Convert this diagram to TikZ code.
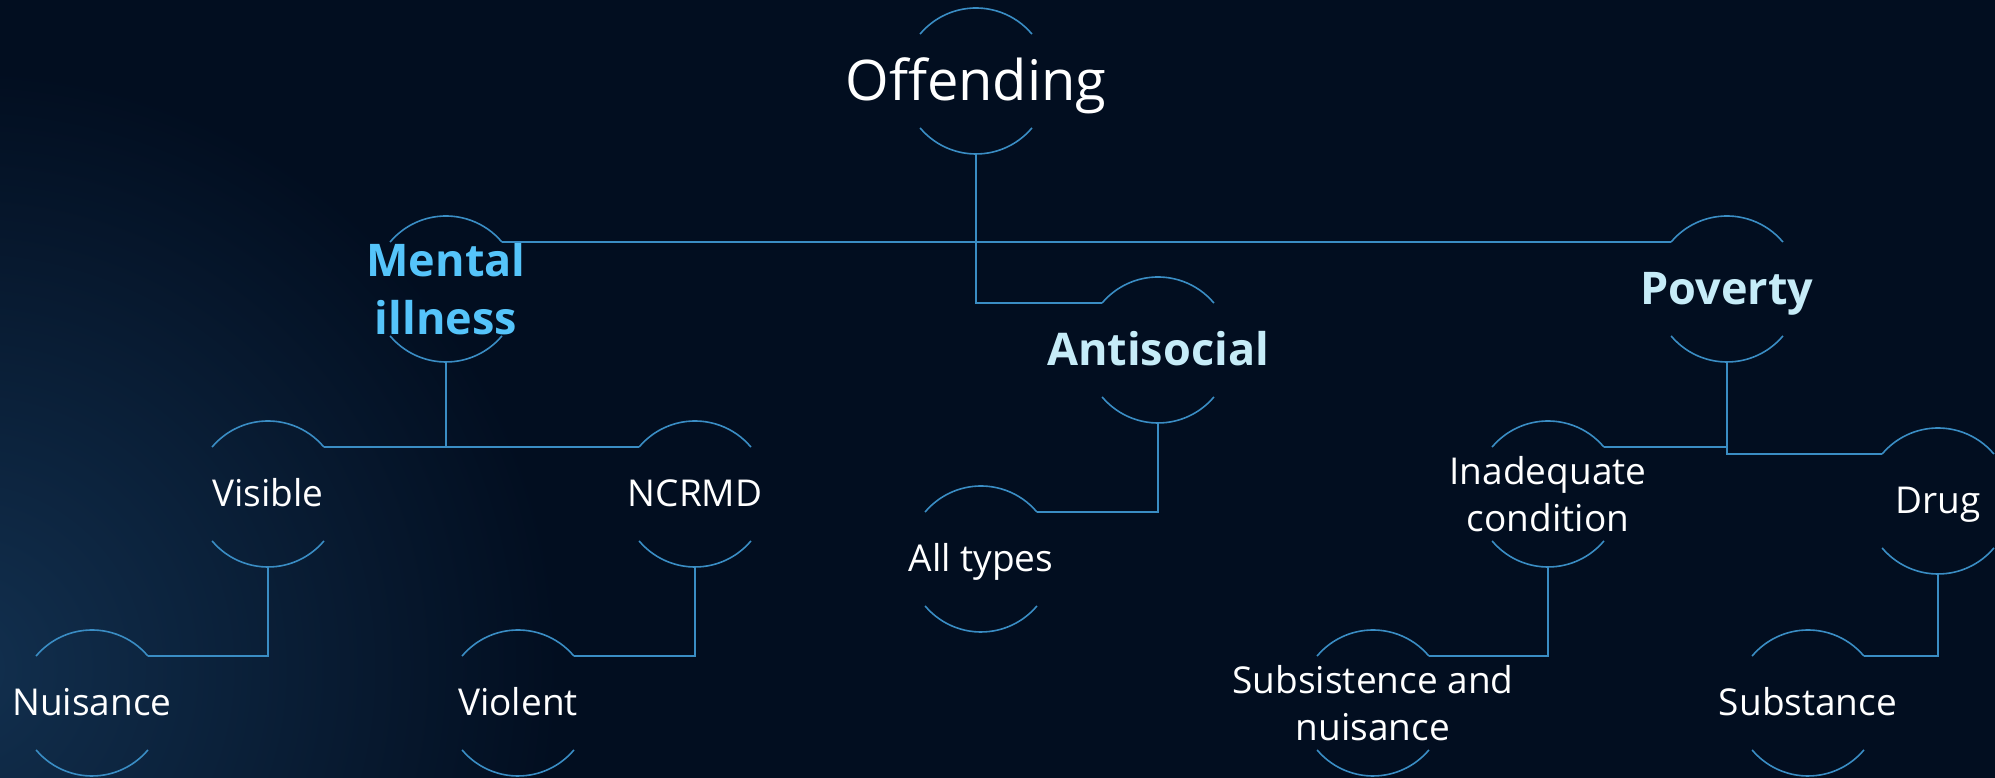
\documentclass[tikz,border=0pt]{standalone}
\usepackage{fontspec}
\setmainfont{Open Sans}
\definecolor{bgNavy}{HTML}{020E20}
\definecolor{bgGlow}{HTML}{12304F}
\definecolor{lineBlue}{HTML}{3A8DC4}
\definecolor{mentalBlue}{HTML}{55C4FA}
\definecolor{paleCyan}{HTML}{C6ECF8}

\begin{document}
\begin{tikzpicture}
[x=1pt,y=1pt,
  ringDecorate/.style={shape=circle,minimum size=146pt,inner sep=0pt,outer sep=0pt},
  arcDecorate/.style={draw=lineBlue,line width=1.6pt},
  lineDecorate/.style={-,draw=lineBlue,line width=1.6pt},
  rootText/.style={text=white,font=\fontsize{56}{68}\selectfont,text height=40pt,text depth=0pt},
  mainText/.style={font=\bfseries\fontsize{45}{58}\selectfont,align=center},
  mainLine/.style={font=\bfseries\fontsize{45}{58}\selectfont,text height=32pt,text depth=0pt},
  leafText/.style={text=white,font=\fontsize{37}{47}\selectfont,align=center},
  leafLine/.style={text=white,font=\fontsize{37}{47}\selectfont,text height=26pt,text depth=0pt}]
%%
%% background
\useasboundingbox (0,0) rectangle (1995,778);
\fill[bgNavy] (0,0) rectangle (1995,778);
\begin{scope}
  \clip (0,0) rectangle (1995,778);
  \shade[inner color=bgGlow,outer color=bgNavy] (-40,110) circle (600pt);
\end{scope}
%%
%%%%%%%%%%%%%%%%%%%%%%%%%%%%%%%%%%%%%%%%%%%%%%%%%%%%%%%%%%%%%%%%%%%%%%%%%%%
%%
%% rings: two open arcs round each item
\foreach \nodename/\x/\y in {
  off/976/697,
  ment/446/489, anti/1158/428, pov/1727/489,
  vis/268/284, ncr/695/284, allt/981/219, inad/1548/284, drug/1938/277,
  nuis/92/75, viol/518/75, subs/1373/75, subst/1808/75}
{
  \node (\nodename) at (\x,\y) [ringDecorate] {};
  \draw[arcDecorate] (\nodename.40) arc[start angle=40,end angle=140,radius=73pt];
  \draw[arcDecorate] (\nodename.220) arc[start angle=220,end angle=320,radius=73pt];
}
%%
%% texts
\node (off-t) at (off) [rootText] {Offending};
\node (ment-t) at (ment) [mainText,text=mentalBlue] {Mental\\illness};
\node (anti-t) at (anti) [mainLine,text=paleCyan] {Antisocial};
\node (pov-t) at (pov) [mainLine,text=paleCyan] {Poverty};
\foreach \nodename/\txt in {
  vis/Visible, ncr/NCRMD, allt/All types, drug/Drug,
  nuis/Nuisance, viol/Violent, subst/Substance}
{
  \node (\nodename-t) at (\nodename) [leafLine] {\txt};
}
\node (inad-t) at (inad) [leafText] {Inadequate\\condition};
\node (subs-t) at (subs) [leafText] {Subsistence and\\nuisance};
%%
%%%%%%%%%%%%%%%%%%%%%%%%%%%%%%%%%%%%%%%%%%%%%%%%%%%%%%%%%%%%%%%%%%%%%%%%%%%
%%
%% connectors
\draw[lineDecorate] (ment.40) -- (pov.140);
\path
\foreach \startnode/\endnode/\side in {
  off/anti/140,
  ment/vis/40, ment/ncr/140, anti/allt/40, pov/inad/40, pov/drug/140,
  vis/nuis/40, ncr/viol/40, inad/subs/40, drug/subst/40}
{
  (\startnode.south) edge[lineDecorate,to path={|- (\tikztotarget)}] (\endnode.\side)
};
\end{tikzpicture}
\end{document}
